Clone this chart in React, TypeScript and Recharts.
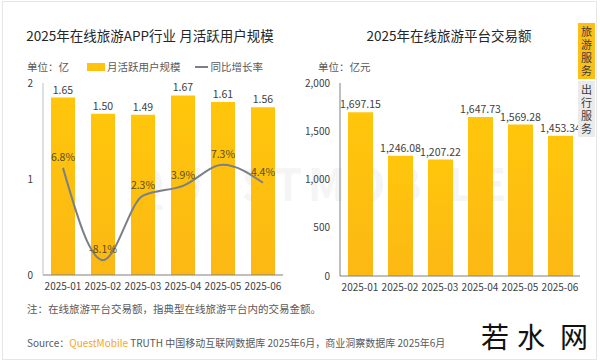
import React from 'react';
import { ComposedChart, BarChart, Bar, Line, XAxis, YAxis, LabelList } from 'recharts';

// category labels and values
const months = ['2025-01', '2025-02', '2025-03', '2025-04', '2025-05', '2025-06'];
const mauValues = [1.65, 1.5, 1.49, 1.67, 1.61, 1.56]; // 亿
const yoyValues = [6.8, -8.1, 2.3, 3.9, 7.3, 4.4]; // %
const gmvValues = [1697.15, 1246.08, 1207.22, 1647.73, 1569.28, 1453.34]; // 亿元
const mauTicks = [0, 1, 2];
const gmvTicks = [0, 500, 1000, 1500, 2000];
const tabs = ['旅游服务', '出行服务'];

const mauData = months.map((m, i) => ({ month: m, mau: mauValues[i], yoy: yoyValues[i] }));
const gmvData = months.map((m, i) => ({ month: m, gmv: gmvValues[i] }));

const FONT = "'Noto Sans CJK SC', 'Noto Sans', sans-serif";
const textGrey = '#595959';
const axisText = { fontSize: 10, fill: '#404040', fontFamily: FONT };

const GoldGradient: React.FC<{ id: string }> = ({ id }) => (
  <defs>
    <linearGradient id={id} x1="0" y1="0" x2="0" y2="1">
      <stop offset="0%" stopColor="#FFC60B" />
      <stop offset="100%" stopColor="#FCB814" />
    </linearGradient>
  </defs>
);

const SideTab: React.FC<{ label: string; top: number; bg: string }> = ({ label, top, bg }) => (
  <div style={{ position: 'absolute', left: 578, top, width: 17, height: 56, background: bg, color: '#3a3a3a', fontSize: 11, lineHeight: '13px', textAlign: 'center', paddingTop: 2, boxSizing: 'border-box' }}>
    {label.split('').map((ch, i) => (
      <div key={i}>{ch}</div>
    ))}
  </div>
);

const App: React.FC = () => {
  return (
    <div style={{ position: 'absolute', left: 0, top: 0, width: 600, height: 360, background: '#fff', fontFamily: FONT, overflow: 'hidden' }}>
      {/* frame */}
      <div style={{ position: 'absolute', left: 2, top: 1, width: 593, height: 357, border: '1px solid #e6e6e6' }} />

      {/* faint watermark */}
      <div style={{ position: 'absolute', left: 130, top: 150, fontSize: 44, color: '#f5f5f5', letterSpacing: 6, fontWeight: 700 }}>QUESTMOBILE</div>

      {/* titles */}
      <div style={{ position: 'absolute', left: 0, top: 25, width: 300, textAlign: 'center', fontSize: 13.5, color: '#262626' }}>
        2025年在线旅游APP行业 月活跃用户规模
      </div>
      <div style={{ position: 'absolute', left: 300, top: 25, width: 298, textAlign: 'center', fontSize: 13.5, color: '#262626' }}>
        2025年在线旅游平台交易额
      </div>

      {/* legend row, left */}
      <div style={{ position: 'absolute', left: 27, top: 59, fontSize: 10.5, color: textGrey, display: 'flex', alignItems: 'center', whiteSpace: 'nowrap' }}>
        <span>单位：亿</span>
        <span style={{ display: 'inline-block', width: 18, height: 8, background: '#FFC20E', marginLeft: 18, marginRight: 2 }} />
        <span>月活跃用户规模</span>
        <span style={{ display: 'inline-block', width: 13, height: 2, background: '#7b8087', marginLeft: 14, marginRight: 3 }} />
        <span>同比增长率</span>
      </div>
      <div style={{ position: 'absolute', left: 318, top: 59, fontSize: 10.5, color: textGrey }}>单位：亿元</div>

      {/* left chart */}
      <div style={{ position: 'absolute', left: 0, top: 0 }}>
        <ComposedChart width={300} height={300} data={mauData} margin={{ top: 83, right: 17, left: 23, bottom: 0 }}>
          <GoldGradient id="goldLeft" />
          <XAxis dataKey="month" interval={0} tickLine={false} axisLine={{ stroke: '#7f7f7f' }} tick={axisText} height={25} />
          <YAxis yAxisId="scale" width={20} domain={[0, 2]} ticks={mauTicks} allowDataOverflow tickLine={false} axisLine={{ stroke: '#bfbfbf' }} tick={axisText} tickMargin={4} />
          <YAxis yAxisId="mau" hide orientation="right" width={0} domain={[0, 1.786]} allowDataOverflow />
          <YAxis yAxisId="yoy" hide orientation="right" width={0} domain={[-10.5, 20.5]} allowDataOverflow />
          <Bar yAxisId="mau" dataKey="mau" barSize={24} fill="url(#goldLeft)" isAnimationActive={false}>
            <LabelList dataKey="mau" position="top" offset={4} formatter={(v: any) => Number(v).toFixed(2)} style={{ fontSize: 10.5, fill: '#404040', fontFamily: FONT }} />
          </Bar>
          <Line yAxisId="yoy" type="monotone" dataKey="yoy" stroke="#7b8087" strokeWidth={2} dot={false} isAnimationActive={false}>
            <LabelList dataKey="yoy" position="top" offset={7} formatter={(v: any) => `${v}%`} style={{ fontSize: 10.5, fill: '#5c4b1e', fontFamily: FONT }} />
          </Line>
        </ComposedChart>
      </div>

      {/* right chart */}
      <div style={{ position: 'absolute', left: 300, top: 0 }}>
        <BarChart width={300} height={300} data={gmvData} margin={{ top: 83, right: 20, left: 5, bottom: 0 }}>
          <GoldGradient id="goldRight" />
          <XAxis dataKey="month" interval={0} tickLine={false} axisLine={{ stroke: '#7f7f7f' }} tick={axisText} height={24} />
          <YAxis width={35} domain={[0, 2000]} ticks={gmvTicks} tickLine={false} axisLine={{ stroke: '#7f7f7f' }} tick={axisText} tickMargin={4} tickFormatter={(v: number) => v.toLocaleString('en-US')} />
          <Bar dataKey="gmv" barSize={25} fill="url(#goldRight)" isAnimationActive={false}>
            <LabelList dataKey="gmv" position="top" offset={4} formatter={(v: any) => Number(v).toLocaleString('en-US', { minimumFractionDigits: 2, maximumFractionDigits: 2 })} style={{ fontSize: 10.5, fill: '#404040', fontFamily: FONT }} />
          </Bar>
        </BarChart>
      </div>

      {/* side tabs */}
      <SideTab label={tabs[0]} top={23} bg="#FBBF18" />
      <SideTab label={tabs[1]} top={81} bg="#ebebeb" />

      {/* footer */}
      <div style={{ position: 'absolute', left: 27, top: 301, fontSize: 10.5, color: textGrey, whiteSpace: 'nowrap' }}>
        注：在线旅游平台交易额，指典型在线旅游平台内的交易金额。
      </div>
      <div style={{ position: 'absolute', left: 27, top: 335, fontSize: 10, color: textGrey, whiteSpace: 'nowrap' }}>
        Source：<span style={{ color: '#F5A623' }}>QuestMobile</span> TRUTH 中国移动互联网数据库 2025年6月，商业洞察数据库 2025年6月
      </div>
      <div style={{ position: 'absolute', left: 470, top: 318, width: 126, height: 40, background: '#fff' }} />
      <div style={{ position: 'absolute', left: 481, top: 318, fontSize: 28, color: '#111', lineHeight: '36px' }}>若</div>
      <div style={{ position: 'absolute', left: 517, top: 318, fontSize: 28, color: '#111', lineHeight: '36px' }}>水</div>
      <div style={{ position: 'absolute', left: 560, top: 318, fontSize: 28, color: '#111', lineHeight: '36px' }}>网</div>
    </div>
  );
};

export default App;
